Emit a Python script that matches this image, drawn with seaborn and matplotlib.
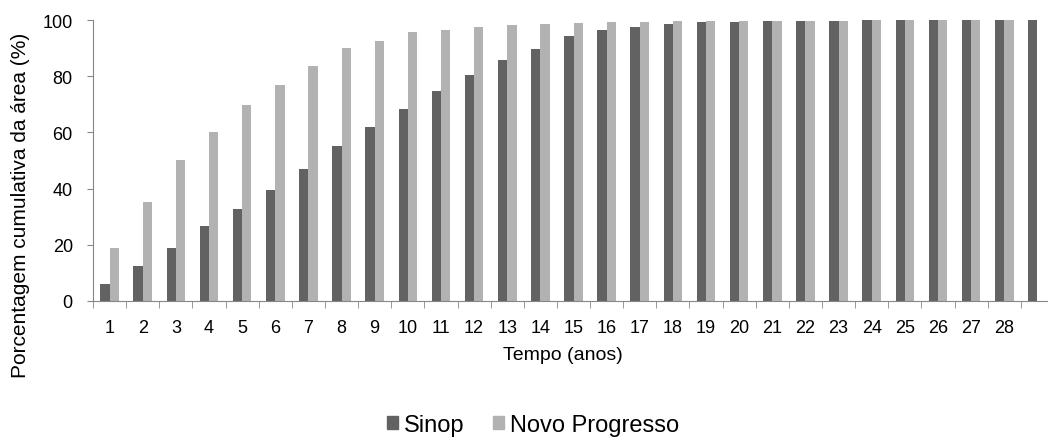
import matplotlib
matplotlib.use("Agg")
import matplotlib.pyplot as plt
import seaborn as sns
import pandas as pd
import numpy as np

# cumulative area (%) per year
anos = list(range(1, 30))
sinop = [6.2, 12.5, 19.0, 26.6, 32.7, 39.4, 47.0, 55.1, 61.8, 68.2,
         74.9, 80.6, 85.7, 89.8, 94.3, 96.4, 97.5, 98.6, 99.2, 99.4,
         99.6, 99.8, 99.8, 99.9, 100.0, 100.0, 100.0, 100.0, 100.0]
novo_progresso = [18.8, 35.3, 50.1, 60.1, 69.7, 76.8, 83.8, 90.0, 92.5, 95.7,
                  96.6, 97.4, 98.1, 98.6, 98.9, 99.2, 99.3, 99.5, 99.5, 99.5,
                  99.6, 99.6, 99.6, 99.9, 99.9, 100.0, 100.0, 100.0, np.nan]
tick_labels = [str(a) for a in range(1, 29)] + [""]

df = pd.DataFrame({
    "ano": anos * 2,
    "serie": ["Sinop"] * len(anos) + ["Novo Progresso"] * len(anos),
    "valor": sinop + novo_progresso,
}).dropna()

plt.rcParams["font.family"] = ["Liberation Sans", "DejaVu Sans"]

fig = plt.figure(figsize=(10.48, 4.39), dpi=100)
ax = fig.add_axes([93 / 1048, 1 - 302 / 439, (1054 - 93) / 1048, (302 - 21) / 439])

sns.barplot(data=df, x="ano", y="valor", hue="serie", order=anos,
            hue_order=["Sinop", "Novo Progresso"],
            palette=["#626262", "#b2b2b2"], width=0.56, gap=0,
            errorbar=None, ax=ax, saturation=1, legend=False)

axis_gray = "#868686"
ax.set_xlim(-0.5, 28.5)
ax.set_ylim(0, 100)
ax.set_yticks([0, 20, 40, 60, 80, 100])
ax.set_xticks(range(29))
ax.set_xticklabels(tick_labels)
ax.set_xticks(np.arange(-0.5, 29, 1), minor=True)
ax.tick_params(axis="x", which="major", length=0, labelsize=13, pad=13)
ax.tick_params(axis="x", which="minor", length=5, color=axis_gray, direction="out")
ax.tick_params(axis="y", length=4.5, color=axis_gray, labelsize=13, pad=10)

for s in ["top", "right"]:
    ax.spines[s].set_visible(False)
for s in ["left", "bottom"]:
    ax.spines[s].set_color(axis_gray)

ax.set_xlabel("")
ax.set_ylabel("")
fig.text(563 / 1048, 1 - 360 / 439, "Tempo (anos)", ha="center", va="baseline", fontsize=14)
fig.text(21 / 1048, 1 - 205 / 439, "Porcentagem cumulativa da área (%)", rotation=90,
         ha="center", va="center", fontsize=15)

handles = [plt.Rectangle((0, 0), 1, 1, color="#626262"),
           plt.Rectangle((0, 0), 1, 1, color="#b2b2b2")]
fig.legend(handles, ["Sinop", "Novo Progresso"], loc="center",
           bbox_to_anchor=(533 / 1048, 1 - 426 / 439), ncol=2, frameon=False,
           fontsize=17, handlelength=0.47, handleheight=0.47, handletextpad=0.25,
           columnspacing=1.2, borderpad=0, borderaxespad=0)

fig.savefig("out.png", dpi=100)
